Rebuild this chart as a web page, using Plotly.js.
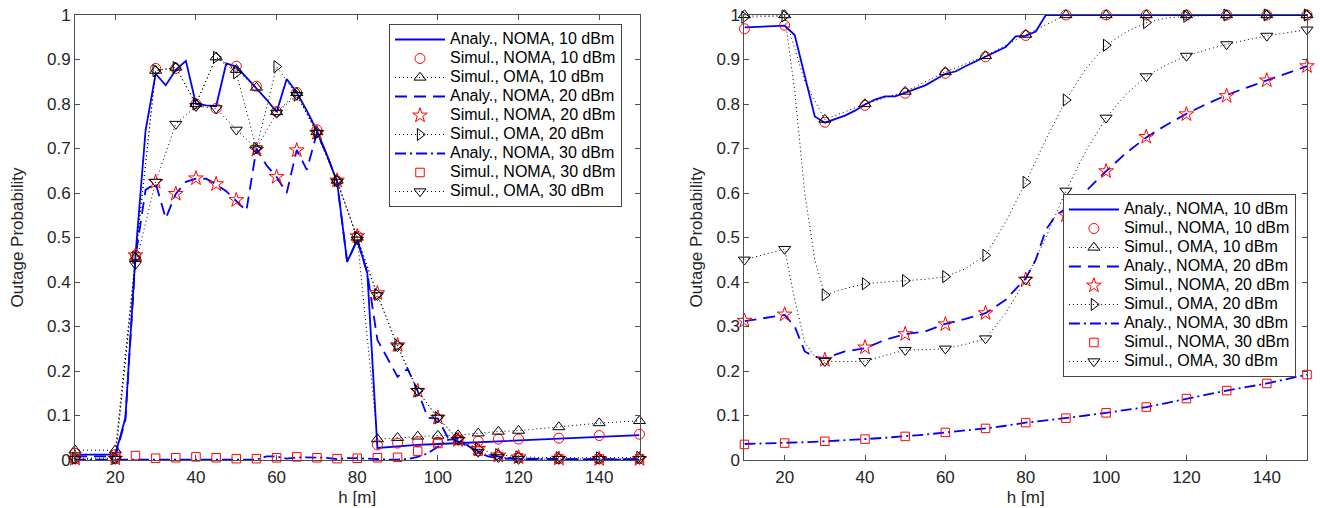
<!DOCTYPE html>
<html><head><meta charset="utf-8">
<script src="https://cdn.plot.ly/plotly-3.0.1.min.js"></script>
<style>html,body{margin:0;padding:0;background:#fff}#chart{width:1320px;height:508px}</style>
</head><body><div id="chart"></div>
<script>
// ---------- LEFT PANEL DATA ----------
const L_markerX = [10,20,25,30,35,40,45,50,55,60,65,70,75,80,85,90,95,100,105,110,115,120,130,140,150];
const L_simNoma10 = [0.015,0.012,0.46,0.88,0.88,0.80,0.79,0.885,0.84,0.783,0.826,0.742,0.627,0.503,0.034,0.038,0.041,0.04,0.045,0.042,0.047,0.047,0.049,0.055,0.058];
const L_simNoma20 = [0.003,0.003,0.46,0.625,0.598,0.633,0.62,0.584,0.697,0.636,0.696,0.735,0.628,0.503,0.375,0.258,0.155,0.095,0.045,0.025,0.01,0.006,0.003,0.002,0.002];
const L_simNoma30 = [0.003,0.003,0.01,0.004,0.005,0.007,0.005,0.003,0.003,0.005,0.007,0.005,0.003,0.004,0.005,0.006,0.02,0.037,0.045,0.02,0.008,0.005,0.003,0.003,0.003];
const L_simOma10 = [0.022,0.022,0.455,0.875,0.882,0.80,0.905,0.877,0.837,0.782,0.825,0.737,0.628,0.50,0.047,0.05,0.053,0.055,0.056,0.06,0.064,0.066,0.074,0.083,0.088];
const L_simOma20 = [0.004,0.004,0.455,0.875,0.882,0.80,0.905,0.87,0.70,0.884,0.82,0.735,0.628,0.50,0.372,0.258,0.155,0.095,0.048,0.025,0.012,0.007,0.005,0.005,0.006];
const L_simOma30 = [0.002,0.002,0.44,0.625,0.755,0.795,0.79,0.742,0.70,0.78,0.82,0.735,0.625,0.495,0.37,0.255,0.155,0.095,0.045,0.018,0.006,0.002,0.002,0.002,0.002];

const L_an10X = [10,20,22.5,25,27.5,30,32.5,35,37.5,40,42.5,45,47.5,50,52.5,55,57.5,60,62.5,65,67.5,70,72.5,75,77.5,80,82.5,85,90,95,100,105,110,115,120,130,140,150];
const L_an10Y = [0.012,0.012,0.095,0.46,0.74,0.868,0.842,0.877,0.897,0.80,0.797,0.795,0.891,0.884,0.86,0.835,0.81,0.782,0.856,0.826,0.785,0.74,0.685,0.625,0.445,0.495,0.42,0.027,0.031,0.034,0.036,0.038,0.04,0.042,0.044,0.048,0.052,0.056];
const L_an20X = [10,20,22.5,25,27.5,30,32.5,35,37.5,40,42.5,45,47.5,50,52.5,55,57.5,60,62.5,65,67.5,70,72.5,75,77.5,80,82.5,85,87.5,90,92.5,95,97.5,100,102.5,105,107.5,110,112.5,115,117.5,120,130,140,150];
const L_an20Y = [0.008,0.008,0.09,0.455,0.607,0.622,0.543,0.598,0.625,0.632,0.632,0.62,0.604,0.583,0.56,0.70,0.662,0.636,0.60,0.697,0.652,0.735,0.685,0.625,0.445,0.495,0.42,0.27,0.228,0.187,0.205,0.155,0.095,0.093,0.05,0.042,0.03,0.02,0.013,0.008,0.005,0.003,0.002,0.002,0.002];
const L_an30X = [10,20,25,30,35,40,45,50,55,57.5,60,62.5,65,67.5,70,72.5,75,77.5,80,82.5,85,87.5,90,92.5,95,97.5,100,102.5,105,107.5,110,112.5,115,120,130,140,150];
const L_an30Y = [0.001,0.001,0.001,0.001,0.001,0.001,0.001,0.001,0.001,0.008,0.008,0.003,0.006,0.006,0.005,0.005,0.002,0.004,0.004,0.003,0.001,0.001,0.001,0.002,0.007,0.015,0.03,0.045,0.048,0.032,0.016,0.008,0.004,0.002,0.001,0.001,0.001];

// ---------- RIGHT PANEL DATA ----------
const R_markerX = [10,20,30,40,50,60,70,80,90,100,110,120,130,140,150];
const R_simNoma10 = [0.969,0.977,0.759,0.797,0.824,0.869,0.906,0.954,1,1,1,1,1,1,1];
const R_simNoma20 = [0.313,0.327,0.225,0.253,0.283,0.305,0.33,0.405,0.55,0.649,0.726,0.777,0.818,0.853,0.885];
const R_simNoma30 = [0.035,0.038,0.042,0.047,0.053,0.062,0.071,0.084,0.094,0.106,0.119,0.138,0.156,0.172,0.192];

const R_an10X = [10,20,22.5,25,27.5,30,32.5,35,37.5,40,42.5,45,47.5,50,55,60,62.5,65,70,75,77.5,80,82.5,85,90,100,110,120,130,140,150];
const R_an10Y = [0.972,0.976,0.955,0.862,0.772,0.758,0.766,0.774,0.785,0.799,0.81,0.817,0.817,0.825,0.842,0.868,0.873,0.885,0.907,0.928,0.952,0.953,0.963,1,1,1,1,1,1,1,1];
const R_an20X = [10,20,22.5,25,27.5,30,35,40,45,50,55,60,65,70,75,80,82.5,85,87.5,90,92.5,95,97.5,100,105,110,115,120,125,130,135,140,145,150];
const R_an20Y = [0.312,0.326,0.30,0.244,0.232,0.229,0.244,0.251,0.27,0.283,0.289,0.306,0.317,0.33,0.36,0.408,0.45,0.517,0.55,0.565,0.582,0.605,0.628,0.649,0.69,0.725,0.753,0.778,0.80,0.82,0.837,0.853,0.869,0.885];
const R_an30X = [10,15,20,25,30,35,40,45,50,55,60,65,70,75,80,85,90,95,100,105,110,115,120,125,130,135,140,145,150];
const R_an30Y = [0.036,0.037,0.039,0.040,0.042,0.044,0.047,0.050,0.053,0.057,0.062,0.066,0.071,0.077,0.084,0.089,0.094,0.1,0.106,0.112,0.119,0.128,0.138,0.147,0.156,0.164,0.172,0.182,0.192];

const R_oma10X = [10,20,25,30,40,50,60,70,80,90,100,110,120,130,140,150];
const R_oma10Y = [1,1,0.85,0.765,0.80,0.828,0.872,0.908,0.956,1,1,1,1,1,1,1];
const R_oma20X = [10,20,22.5,25,27.5,30,35,40,45,50,55,60,65,70,75,80,85,90,95,100,105,110,115,120,125,130,140,150];
const R_oma20Y = [0.995,0.998,0.83,0.60,0.45,0.371,0.385,0.396,0.40,0.403,0.406,0.412,0.43,0.46,0.535,0.624,0.72,0.809,0.88,0.932,0.962,0.983,0.993,0.997,0.999,1,1,1];
const R_oma30X = [10,20,22.5,25,27.5,30,35,40,45,50,55,60,65,70,75,80,85,90,95,100,105,110,115,120,125,130,135,140,145,150];
const R_oma30Y = [0.45,0.474,0.36,0.265,0.232,0.222,0.221,0.222,0.235,0.247,0.248,0.25,0.26,0.273,0.33,0.405,0.50,0.605,0.695,0.769,0.822,0.862,0.888,0.908,0.922,0.934,0.944,0.953,0.96,0.967];

const legendNames = ['Analy., NOMA, 10 dBm','Simul., NOMA, 10 dBm','Simul., OMA, 10 dBm',
  'Analy., NOMA, 20 dBm','Simul., NOMA, 20 dBm','Simul., OMA, 20 dBm',
  'Analy., NOMA, 30 dBm','Simul., NOMA, 30 dBm','Simul., OMA, 30 dBm'];
const xTitle = 'h [m]';
const yTitle = 'Outage Probability';

// ---------- STYLE ----------
const FONT = 'Liberation Sans, Arial, Helvetica, sans-serif';
const BLUE = '#0000ff', RED = '#ff0000', BLACK = '#000000';
const DASHES = {solid: 'solid', dash: '12px,7px', dashdot: '11px,4px,2px,4px'};
const DOT = '1px,3px';
const lbl = s => '<span style="font-size:16px">' + s + '</span>';

function analy(x, y, dash, name, xa, ya, lg) {
  return {type:'scatter', mode:'lines', x:x, y:y, name:lbl(name), xaxis:xa, yaxis:ya, legend:lg,
    line:{color:BLUE, width:1.8, dash:dash}, cliponaxis:false, hoverinfo:'skip'};
}
function simNoma(x, y, symbol, size, name, xa, ya, lg) {
  return {type:'scatter', mode:'markers', x:x, y:y, name:lbl(name), xaxis:xa, yaxis:ya, legend:lg,
    marker:{symbol:symbol, size:size, color:RED, line:{color:RED, width:1}}, cliponaxis:false, hoverinfo:'skip'};
}
function simOma(x, y, symbol, name, xa, ya, lg, sel) {
  const t = {type:'scatter', mode:'lines+markers', x:x, y:y, name:lbl(name), xaxis:xa, yaxis:ya, legend:lg,
    line:{color:BLACK, width:1, dash:DOT},
    marker:{symbol:symbol, size:10.5, color:BLACK, line:{color:BLACK, width:1}}, cliponaxis:false, hoverinfo:'skip'};
  if (sel) {
    t.selectedpoints = x.map((v,i)=> v % 10 === 0 ? i : -1).filter(i=>i>=0);
    t.selected = {marker:{opacity:1}};
    t.unselected = {marker:{opacity:0}};
  }
  return t;
}

const traces = [
  analy(L_an10X, L_an10Y, DASHES.solid, legendNames[0], 'x', 'y', 'legend'),
  simNoma(L_markerX, L_simNoma10, 'circle-open', 10, legendNames[1], 'x', 'y', 'legend'),
  simOma(L_markerX, L_simOma10, 'triangle-up-open', legendNames[2], 'x', 'y', 'legend', false),
  analy(L_an20X, L_an20Y, DASHES.dash, legendNames[3], 'x', 'y', 'legend'),
  simNoma(L_markerX, L_simNoma20, 'star-open', 11, legendNames[4], 'x', 'y', 'legend'),
  simOma(L_markerX, L_simOma20, 'triangle-right-open', legendNames[5], 'x', 'y', 'legend', false),
  analy(L_an30X, L_an30Y, DASHES.dashdot, legendNames[6], 'x', 'y', 'legend'),
  simNoma(L_markerX, L_simNoma30, 'square-open', 8.5, legendNames[7], 'x', 'y', 'legend'),
  simOma(L_markerX, L_simOma30, 'triangle-down-open', legendNames[8], 'x', 'y', 'legend', false),

  analy(R_an10X, R_an10Y, DASHES.solid, legendNames[0], 'x2', 'y2', 'legend2'),
  simNoma(R_markerX, R_simNoma10, 'circle-open', 10, legendNames[1], 'x2', 'y2', 'legend2'),
  simOma(R_oma10X, R_oma10Y, 'triangle-up-open', legendNames[2], 'x2', 'y2', 'legend2', true),
  analy(R_an20X, R_an20Y, DASHES.dash, legendNames[3], 'x2', 'y2', 'legend2'),
  simNoma(R_markerX, R_simNoma20, 'star-open', 11, legendNames[4], 'x2', 'y2', 'legend2'),
  simOma(R_oma20X, R_oma20Y, 'triangle-right-open', legendNames[5], 'x2', 'y2', 'legend2', true),
  analy(R_an30X, R_an30Y, DASHES.dashdot, legendNames[6], 'x2', 'y2', 'legend2'),
  simNoma(R_markerX, R_simNoma30, 'square-open', 8.5, legendNames[7], 'x2', 'y2', 'legend2'),
  simOma(R_oma30X, R_oma30Y, 'triangle-down-open', legendNames[8], 'x2', 'y2', 'legend2', true)
];

const AXC = '#4d4d4d';
const tickFont = {family:FONT, size:17, color:'#262626'};
function xAx(domain, anchor) {
  return {domain:domain, anchor:anchor, range:[10,150], tick0:0, dtick:20, ticks:'inside', ticklen:5,
    tickwidth:1, tickcolor:AXC, showline:true, linecolor:AXC, linewidth:1, mirror:'ticks',
    showgrid:false, zeroline:false, tickfont:tickFont, automargin:false, ticklabelstandoff:2,
    title:{text:xTitle, font:{family:FONT, size:17, color:'#262626'}, standoff:4}};
}
function yAx(anchor, standoff) {
  return {domain:[0,1], anchor:anchor, range:[0,1], tick0:0, dtick:0.1, ticks:'inside', ticklen:5,
    tickwidth:1, tickcolor:AXC, showline:true, linecolor:AXC, linewidth:1, mirror:'ticks',
    showgrid:false, zeroline:false, tickfont:tickFont, automargin:false,
    title:{text:yTitle, font:{family:FONT, size:17, color:'#262626'}, standoff:standoff}};
}
function leg(x, y) {
  return {x:x, y:y, xanchor:'right', yanchor:'top', bgcolor:'#ffffff', bordercolor:'#444444', borderwidth:1,
    font:{family:FONT, size:12, color:'#000000'}, itemwidth:50, traceorder:'normal', tracegroupgap:0};
}

const layout = {
  width:1320, height:508, margin:{l:75, r:13, t:15, b:48},
  paper_bgcolor:'#ffffff', plot_bgcolor:'#ffffff', showlegend:true,
  xaxis: xAx([0, 0.4582], 'y'), yaxis: yAx('x', 19),
  xaxis2: xAx([0.5434, 1], 'y2'), yaxis2: yAx('x2', 9),
  legend: leg(0.444, 0.9798),
  legend2: leg(0.991, 0.5978)
};

Plotly.newPlot('chart', traces, layout, {staticPlot:true, displayModeBar:false});
</script></body></html>
